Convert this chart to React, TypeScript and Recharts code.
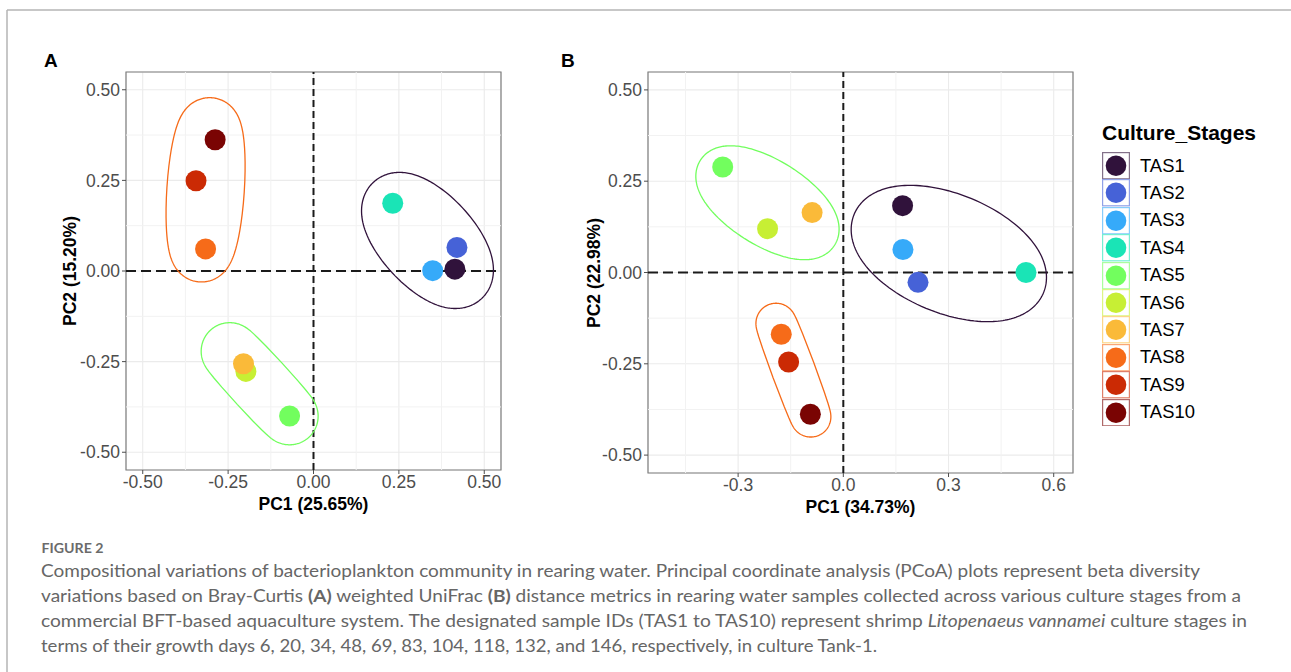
import React from "react";
import {
  ScatterChart,
  Scatter,
  XAxis,
  YAxis,
  CartesianGrid,
  ReferenceLine,
  ReferenceArea,
} from "recharts";

/* ---------------- DATA ---------------- */
const stages = ["TAS1", "TAS2", "TAS3", "TAS4", "TAS5", "TAS6", "TAS7", "TAS8", "TAS9", "TAS10"];
const stageColors = [
  "#30123B", "#4662D7", "#36AAF9", "#1AE4B6", "#72FE5E",
  "#C7EF34", "#FABA39", "#F66B19", "#CB2A04", "#7A0403",
];
// stage groups enclosed by an ellipse (indices into stages)
const groups = [[0, 1, 2, 3], [4, 5, 6], [7, 8, 9]];

// panel A: Bray-Curtis
const pc1A = [0.414, 0.420, 0.349, 0.232, -0.070, -0.198, -0.205, -0.316, -0.344, -0.288];
const pc2A = [0.005, 0.065, 0.001, 0.187, -0.400, -0.277, -0.256, 0.061, 0.249, 0.362];
// panel B: weighted UniFrac
const pc1B = [0.169, 0.213, 0.170, 0.521, -0.344, -0.216, -0.089, -0.177, -0.156, -0.094];
const pc2B = [0.183, -0.027, 0.063, 0.000, 0.289, 0.120, 0.164, -0.169, -0.245, -0.388];

const ticksAx = [-0.5, -0.25, 0, 0.25, 0.5];
const ticksAy = [-0.5, -0.25, 0, 0.25, 0.5];
const minorA = [-0.375, -0.125, 0.125, 0.375];
const ticksBx = [-0.3, 0, 0.3, 0.6];
const ticksBy = [-0.5, -0.25, 0, 0.25, 0.5];
const minorBx = [-0.45, -0.15, 0.15, 0.45];
const minorBy = [-0.375, -0.125, 0.125, 0.375];

/* ---------------- GEOMETRY (ggforce-like mark ellipse) ---------------- */
type P = [number, number];

const inv3 = (m: number[][]) => {
  const [a, b, c] = m[0];
  const [d, e, f] = m[1];
  const [g, h, i] = m[2];
  const A = e * i - f * h, B = -(d * i - f * g), C = d * h - e * g;
  const det = a * A + b * B + c * C;
  return [
    [A / det, -(b * i - c * h) / det, (b * f - c * e) / det],
    [B / det, (a * i - c * g) / det, -(a * f - c * d) / det],
    [C / det, -(a * h - b * g) / det, (a * e - b * d) / det],
  ];
};

// Khachiyan minimum volume enclosing ellipse
const mvee = (pts: P[]) => {
  const n = pts.length;
  let u = new Array(n).fill(1 / n);
  for (let it = 0; it < 3000; it++) {
    const X = [[0, 0, 0], [0, 0, 0], [0, 0, 0]];
    pts.forEach((p, k) => {
      const q = [p[0], p[1], 1];
      for (let r = 0; r < 3; r++) for (let c = 0; c < 3; c++) X[r][c] += u[k] * q[r] * q[c];
    });
    const Xi = inv3(X);
    let jmax = 0, mmax = -Infinity;
    pts.forEach((p, k) => {
      const q = [p[0], p[1], 1];
      let m = 0;
      for (let r = 0; r < 3; r++) for (let c = 0; c < 3; c++) m += q[r] * Xi[r][c] * q[c];
      if (m > mmax) { mmax = m; jmax = k; }
    });
    const step = (mmax - 3) / (3 * (mmax - 1));
    if (step < 1e-8) break;
    u = u.map((v, k) => (1 - step) * v + (k === jmax ? step : 0));
  }
  let cx = 0, cy = 0;
  pts.forEach((p, k) => { cx += u[k] * p[0]; cy += u[k] * p[1]; });
  let sxx = 0, sxy = 0, syy = 0;
  pts.forEach((p, k) => {
    sxx += u[k] * (p[0] - cx) ** 2;
    sxy += u[k] * (p[0] - cx) * (p[1] - cy);
    syy += u[k] * (p[1] - cy) ** 2;
  });
  return { cx, cy, sxx, sxy, syy };
};

// ellipse round the group, pushed outwards by `expand` pixels
const enclosure = (xs: number[], ys: number[], idx: number[], kx: number, ky: number, expand: number) => {
  const pts: P[] = idx.map(i => [xs[i] * kx, ys[i] * ky]);
  const { cx, cy, sxx, sxy, syy } = mvee(pts);
  const mid = (sxx + syy) / 2;
  const rad = Math.sqrt(((sxx - syy) / 2) ** 2 + sxy * sxy);
  const a = Math.sqrt(2 * (mid + rad));
  const b = Math.sqrt(Math.max(2 * (mid - rad), 1e-6));
  const phi = 0.5 * Math.atan2(2 * sxy, sxx - syy);
  const out: { x: number; y: number }[] = [];
  const N = 240;
  for (let k = 0; k <= N; k++) {
    const t = (2 * Math.PI * k) / N;
    const ct = Math.cos(t), st = Math.sin(t);
    const den = Math.sqrt(a * a * ct * ct + b * b * st * st);
    const lx = (a * a * ct) / den + expand * ct;
    const ly = (b * b * st) / den + expand * st;
    const rx = lx * Math.cos(phi) - ly * Math.sin(phi);
    const ry = lx * Math.sin(phi) + ly * Math.cos(phi);
    out.push({ x: (cx + rx) / kx, y: (cy + ry) / ky });
  }
  return out;
};

/* ---------------- STYLE ---------------- */
const SANS = "'Liberation Sans', Arial, Helvetica, sans-serif";
const POINT_R = 10.5;
const tickStyle = { fill: "#4D4D4D", fontSize: 17.5, fontFamily: SANS };

type PanelCfg = {
  left: number;
  width: number;
  height: number;
  margin: { top: number; right: number; bottom: number; left: number };
  plotW: number;
  plotH: number;
  xDomain: [number, number];
  yDomain: [number, number];
  ticksX: number[];
  ticksY: number[];
  minorX: number[];
  minorY: number[];
  digitsX: number;
  expand: number;
  pc1: number[];
  pc2: number[];
};

const PcoaPanel = ({ cfg }: { cfg: PanelCfg }) => {
  const kx = cfg.plotW / (cfg.xDomain[1] - cfg.xDomain[0]);
  const ky = cfg.plotH / (cfg.yDomain[1] - cfg.yDomain[0]);
  const points = stages.map((s, i) => ({ stage: s, x: cfg.pc1[i], y: cfg.pc2[i] }));
  const outlines = groups.map(g => enclosure(cfg.pc1, cfg.pc2, g, kx, ky, cfg.expand));

  return (
    <div style={{ position: "absolute", left: cfg.left, top: 0 }}>
      <ScatterChart width={cfg.width} height={cfg.height} margin={cfg.margin}>
        <CartesianGrid stroke="#EBEBEB" strokeWidth={1.1} />
        {cfg.minorX.map(v => (
          <ReferenceLine key={"mx" + v} x={v} stroke="#F2F2F2" strokeWidth={1} />
        ))}
        {cfg.minorY.map(v => (
          <ReferenceLine key={"my" + v} y={v} stroke="#F2F2F2" strokeWidth={1} />
        ))}
        <XAxis
          type="number"
          dataKey="x"
          domain={cfg.xDomain}
          ticks={cfg.ticksX}
          interval={0}
          allowDataOverflow
          tickFormatter={(v: number) => v.toFixed(cfg.digitsX)}
          tick={tickStyle}
          tickLine={{ stroke: "#4D4D4D" }}
          tickSize={4}
          axisLine={false}
          height={30}
        />
        <YAxis
          type="number"
          dataKey="y"
          domain={cfg.yDomain}
          ticks={cfg.ticksY}
          interval={0}
          allowDataOverflow
          tickFormatter={(v: number) => v.toFixed(2)}
          tick={tickStyle}
          tickLine={{ stroke: "#4D4D4D" }}
          tickSize={4}
          axisLine={false}
          width={60}
        />
        <ReferenceArea
          x1={cfg.xDomain[0]}
          x2={cfg.xDomain[1]}
          y1={cfg.yDomain[0]}
          y2={cfg.yDomain[1]}
          fill="none"
          fillOpacity={0}
          stroke="#7F7F7F"
          strokeWidth={1.2}
          ifOverflow="visible"
        />
        <ReferenceLine x={0} stroke="#1A1A1A" strokeWidth={2} strokeDasharray="7 4" />
        <ReferenceLine y={0} stroke="#1A1A1A" strokeWidth={2} strokeDasharray="10 5" />

        {outlines.map((o, gi) => (
          <Scatter
            key={"g" + gi}
            data={o}
            line={{ stroke: stageColors[groups[gi][0]], strokeWidth: 1.3, fill: "none" }}
            lineType="joint"
            shape={() => <g />}
            legendType="none"
            isAnimationActive={false}
          />
        ))}

        <Scatter
          data={points}
          isAnimationActive={false}
          shape={(p: any) => (
            <circle
              cx={p.cx}
              cy={p.cy}
              r={POINT_R}
              fill={stageColors[stages.indexOf(p.payload.stage)]}
            />
          )}
        />
      </ScatterChart>
    </div>
  );
};

const panelA: PanelCfg = {
  left: 0,
  width: 540,
  height: 530,
  margin: { top: 72, right: 39, bottom: 30, left: 66 },
  plotW: 375,
  plotH: 398,
  xDomain: [-0.549, 0.549],
  yDomain: [-0.549, 0.549],
  ticksX: ticksAx,
  ticksY: ticksAy,
  minorX: minorA,
  minorY: minorA,
  digitsX: 2,
  expand: 28.5,
  pc1: pc1A,
  pc2: pc2A,
};

const panelB: PanelCfg = {
  left: 540,
  width: 560,
  height: 530,
  margin: { top: 72, right: 27, bottom: 27, left: 48 },
  plotW: 425,
  plotH: 401,
  xDomain: [-0.557, 0.655],
  yDomain: [-0.549, 0.549],
  ticksX: ticksBx,
  ticksY: ticksBy,
  minorX: minorBx,
  minorY: minorBy,
  digitsX: 1,
  expand: 20,
  pc1: pc1B,
  pc2: pc2B,
};

/* ---------------- LEGEND ---------------- */
const StageLegend = () => (
  <div style={{ position: "absolute", left: 1102, top: 120, fontFamily: SANS }}>
    <div style={{ fontWeight: 700, fontSize: 21, lineHeight: "26px", color: "#000", whiteSpace: "nowrap" }}>
      Culture_Stages
    </div>
    <div style={{ marginTop: 6 }}>
      {stages.map((s, i) => (
        <div key={s} style={{ display: "flex", alignItems: "center", height: 27.4 }}>
          <svg width={28} height={27.4} style={{ display: "block" }}>
            <rect x={0.6} y={0.6} width={26.8} height={26.2} fill="#fff" stroke={stageColors[i]} strokeOpacity={0.6} strokeWidth={1.2} />
            <circle cx={14} cy={13.7} r={10.3} fill={stageColors[i]} />
          </svg>
          <span style={{ marginLeft: 10, fontSize: 18.4, color: "#000" }}>{s}</span>
        </div>
      ))}
    </div>
  </div>
);

/* ---------------- CAPTION ---------------- */
const CAP = "Lato, 'Open Sans', sans-serif";

const App = () => (
  <div
    style={{
      position: "absolute",
      left: 0,
      top: 0,
      width: 1291,
      height: 672,
      background: "#fff",
      overflow: "hidden",
    }}
  >
    <PcoaPanel cfg={panelA} />
    <PcoaPanel cfg={panelB} />
    <StageLegend />

    <svg
      width={1291}
      height={672}
      style={{ position: "absolute", left: 0, top: 0, pointerEvents: "none" }}
    >
      {/* figure frame */}
      <line x1={7} y1={10} x2={1291} y2={10} stroke="#B5B5B5" strokeWidth={1.5} />
      <line x1={7} y1={10} x2={7} y2={672} stroke="#B5B5B5" strokeWidth={1.5} />

      {/* panel letters */}
      <text x={44} y={66.5} fontFamily={SANS} fontWeight={700} fontSize={19}>A</text>
      <text x={561} y={66.5} fontFamily={SANS} fontWeight={700} fontSize={19}>B</text>

      {/* axis titles */}
      <text x={313.5} y={509.5} textAnchor="middle" fontFamily={SANS} fontWeight={700} fontSize={17.5}>
        PC1 (25.65%)
      </text>
      <text
        transform="translate(75.5,271) rotate(-90)"
        textAnchor="middle"
        fontFamily={SANS}
        fontWeight={700}
        fontSize={17.5}
      >
        PC2 (15.20%)
      </text>
      <text x={860.5} y={513} textAnchor="middle" fontFamily={SANS} fontWeight={700} fontSize={17.5}>
        PC1 (34.73%)
      </text>
      <text
        transform="translate(599.5,273) rotate(-90)"
        textAnchor="middle"
        fontFamily={SANS}
        fontWeight={700}
        fontSize={17.5}
      >
        PC2 (22.98%)
      </text>

      {/* caption */}
      <text x={41.5} y={553.3} fontFamily={CAP} fontWeight={700} fontSize={14} fill="#6B6B6B" textLength={62} lengthAdjust="spacingAndGlyphs">
        FIGURE 2
      </text>
      <g fontFamily={CAP} fontSize={17.5} fill="#666666">
        <text x={41} y={576.7} textLength={1159} lengthAdjust="spacingAndGlyphs">
          Compositional variations of bacterioplankton community in rearing water. Principal coordinate analysis (PCoA) plots represent beta diversity
        </text>
        <text x={41} y={601.7} textLength={1200} lengthAdjust="spacingAndGlyphs">
          variations based on Bray-Curtis <tspan fontWeight={700}>(A)</tspan> weighted UniFrac{" "}
          <tspan fontWeight={700}>(B)</tspan> distance metrics in rearing water samples collected across various culture stages from a
        </text>
        <text x={41} y={626.7} textLength={1206} lengthAdjust="spacingAndGlyphs">
          commercial BFT-based aquaculture system. The designated sample IDs (TAS1 to TAS10) represent shrimp{" "}
          <tspan fontStyle="italic">Litopenaeus vannamei</tspan> culture stages in
        </text>
        <text x={41} y={651.7} textLength={836} lengthAdjust="spacingAndGlyphs">
          terms of their growth days 6, 20, 34, 48, 69, 83, 104, 118, 132, and 146, respectively, in culture Tank-1.
        </text>
      </g>
    </svg>
  </div>
);

export default App;
